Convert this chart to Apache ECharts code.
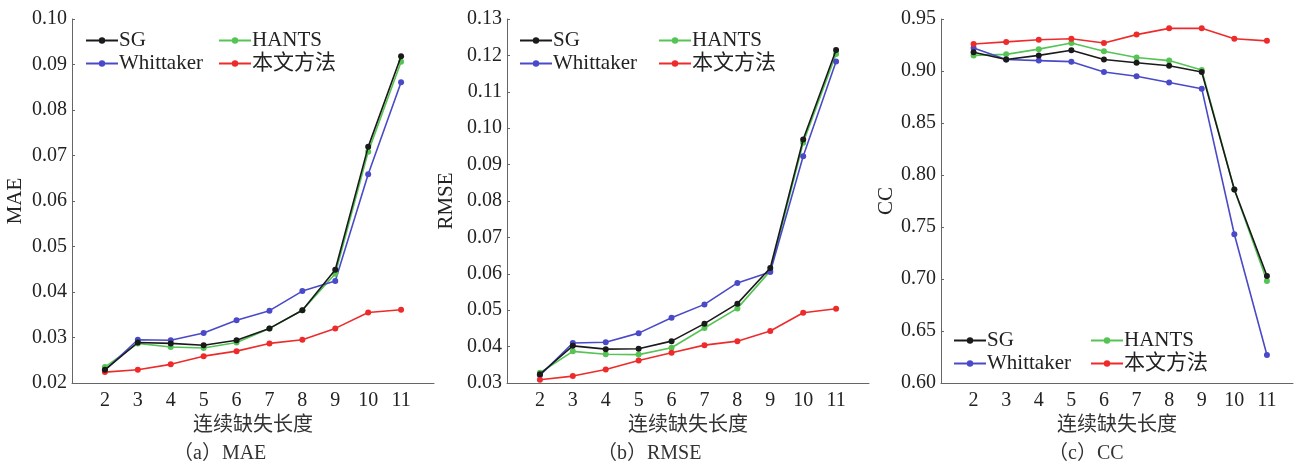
<!DOCTYPE html>
<html><head><meta charset="utf-8">
<script src="https://cdn.jsdelivr.net/npm/echarts@6/dist/echarts.min.js"></script>
<style>html,body{margin:0;padding:0;background:#fff}#c{width:1296px;height:466px}</style>
</head><body><div id="c"></div>
<script>
const lengths = [2,3,4,5,6,7,8,9,10,11];
const seriesNames = ['SG','HANTS','Whittaker','本文方法'];
const maeSG   = [0.0229,0.0289,0.0287,0.0283,0.0294,0.0320,0.0360,0.0449,0.0719,0.0918];
const maeHANTS= [0.0235,0.0287,0.0279,0.0277,0.0289,0.0320,0.0360,0.0440,0.0708,0.0906];
const maeWhit = [0.0228,0.0295,0.0294,0.0310,0.0338,0.0359,0.0402,0.0424,0.0659,0.0861];
const maeOurs = [0.0224,0.0229,0.0241,0.0259,0.0270,0.0287,0.0295,0.0320,0.0355,0.0361];
const rmseSG   = [0.0324,0.0402,0.0393,0.0394,0.0415,0.0463,0.0518,0.0616,0.0969,0.1215];
const rmseHANTS= [0.0328,0.0387,0.0379,0.0378,0.0397,0.0451,0.0505,0.0608,0.0960,0.1204];
const rmseWhit = [0.0321,0.0410,0.0412,0.0437,0.0479,0.0516,0.0575,0.0605,0.0923,0.1183];
const rmseOurs = [0.0309,0.0319,0.0337,0.0362,0.0383,0.0404,0.0415,0.0443,0.0493,0.0504];
const ccSG   = [0.918,0.911,0.915,0.920,0.911,0.908,0.905,0.899,0.786,0.703];
const ccHANTS= [0.915,0.916,0.921,0.927,0.919,0.913,0.910,0.901,0.786,0.698];
const ccWhit = [0.922,0.911,0.910,0.909,0.899,0.895,0.889,0.883,0.743,0.627];
const ccOurs = [0.926,0.928,0.930,0.931,0.927,0.935,0.941,0.941,0.931,0.929];
const yTicksMAE = [0.02,0.03,0.04,0.05,0.06,0.07,0.08,0.09,0.10];
const yTicksRMSE = [0.03,0.04,0.05,0.06,0.07,0.08,0.09,0.10,0.11,0.12,0.13];
const yTicksCC = [0.60,0.65,0.70,0.75,0.80,0.85,0.90,0.95];

const colors = {'SG':'#1a1a1a','HANTS':'#55c455','Whittaker':'#4a4ac8','本文方法':'#ee2b2b'};
const serif = '"Liberation Serif","DejaVu Serif",serif';
const cjk = '"Liberation Serif","Noto Sans CJK SC",serif';
const axisColor = '#666';

const panels = [
  {name:'MAE', sub:'（a）MAE', ticks:yTicksMAE, interval:0.01, data:[maeSG,maeHANTS,maeWhit,maeOurs],
   grid:{left:72,top:19,width:362,height:364}, xmax:12, legendTop:30, legendL1:85, legendL2:218, nameX:17, subX:173},
  {name:'RMSE', sub:'（b）RMSE', ticks:yTicksRMSE, interval:0.01, data:[rmseSG,rmseHANTS,rmseWhit,rmseOurs],
   grid:{left:507,top:19,width:362,height:364}, xmax:12, legendTop:30, legendL1:519, legendL2:658, nameX:448, subX:597},
  {name:'CC', sub:'（c）CC', ticks:yTicksCC, interval:0.05, data:[ccSG,ccHANTS,ccWhit,ccOurs],
   grid:{left:941,top:19,width:355,height:364}, xmax:11.8, legendTop:330, legendL1:953, legendL2:1090, nameX:888, subX:1048}
];

const option = {animation:false, grid:[], xAxis:[], yAxis:[], series:[], legend:[], graphic:[]};
panels.forEach((p,i)=>{
  option.grid.push(Object.assign({containLabel:false}, p.grid));
  option.xAxis.push({type:'value', gridIndex:i, min:1, max:p.xmax, interval:1,
    axisLine:{lineStyle:{color:axisColor,width:1}}, axisTick:{show:false}, splitLine:{show:false},
    axisLabel:{color:'#222', fontFamily:serif, fontSize:20, margin:8,
      formatter:v=> (lengths.indexOf(v)>=0 ? String(v) : '')},
    name:'连续缺失长度', nameLocation:'middle', nameGap:33,
    nameTextStyle:{color:'#333', fontFamily:cjk, fontSize:20}});
  option.yAxis.push({type:'value', gridIndex:i, min:p.ticks[0], max:p.ticks[p.ticks.length-1], interval:p.interval,
    axisLine:{show:true, lineStyle:{color:axisColor,width:1}},
    axisTick:{show:true, inside:true, length:3, lineStyle:{color:axisColor}}, splitLine:{show:false},
    axisLabel:{color:'#222', fontFamily:serif, fontSize:20, margin:5, formatter:v=>v.toFixed(2)},
    name:p.name, nameLocation:'middle', nameGap:p.grid.left - p.nameX - 9,
    nameTextStyle:{color:'#222', fontFamily:serif, fontSize:21}});
  seriesNames.forEach((s,k)=>{
    option.series.push({type:'line', name:s, xAxisIndex:i, yAxisIndex:i,
      data:lengths.map((x,j)=>[x,p.data[k][j]]),
      color:colors[s], symbol:'circle', symbolSize:6, showSymbol:true,
      lineStyle:{width:1.6, color:colors[s]}, itemStyle:{color:colors[s]}, z:k===0?5:3});
  });
  const legBase = {orient:'vertical', itemWidth:32, itemHeight:8, itemGap:2, top:p.legendTop,
    textStyle:{color:'#222', fontFamily:cjk, fontSize:21, padding:[0,0,0,-4]}, padding:0};
  option.legend.push(Object.assign({}, legBase, {left:p.legendL1, data:['SG','Whittaker']}));
  option.legend.push(Object.assign({}, legBase, {left:p.legendL2, data:['HANTS','本文方法']}));
  option.graphic.push({type:'text', left:p.subX, top:444,
    style:{text:p.sub, fill:'#333', font:'20px ' + cjk}});
});
const chart = echarts.init(document.getElementById('c'), null, {renderer:'canvas'});
chart.setOption(option);
</script></body></html>
